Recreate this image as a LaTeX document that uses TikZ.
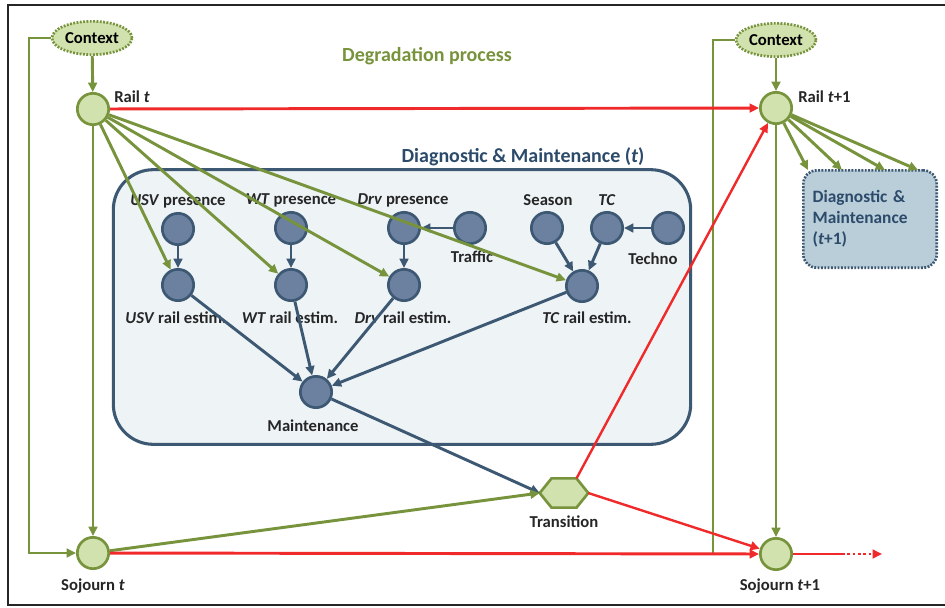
\documentclass[tikz,border=0pt]{standalone}
\usepackage{fontspec}
\setmainfont{Carlito}
\usetikzlibrary{arrows.meta,calc,shapes.geometric}
\definecolor{ol}{HTML}{77933C}
\definecolor{lg}{HTML}{D2E2AE}
\definecolor{rd}{HTML}{F02A2A}
\definecolor{dk}{HTML}{3D5872}
\definecolor{dkfill}{HTML}{6B819F}
\definecolor{boxfill}{HTML}{EEF3F6}
\definecolor{box2fill}{HTML}{BACEDA}
\definecolor{ttl}{HTML}{2C4A6A}
\begin{document}
\begin{tikzpicture}[x=0.75pt,y=-0.75pt,
  lbl/.style={font=\fontsize{12.5}{14}\selectfont\bfseries, text=black!85, inner sep=0pt},
  gnode/.style={circle, draw=ol, fill=lg, line width=2pt, minimum size=23.5pt, inner sep=0pt},
  dnode/.style={circle, draw=dk, fill=dkfill, line width=2pt, minimum size=23.5pt, inner sep=0pt},
  ctxnode/.style={ellipse, draw=ol, fill=lg, line width=2pt, dash pattern=on 1.4pt off 1.1pt, minimum width=60pt, minimum height=25pt, inner sep=0pt, font=\fontsize{12.5}{14}\selectfont\bfseries},
  oarr/.style={draw=ol, line width=2.2pt, -{Triangle[length=7pt,width=6.5pt]}},
  darr/.style={draw=dk, line width=2.2pt, -{Triangle[length=7pt,width=6.5pt]}},
  rarr/.style={draw=rd, line width=1.9pt, -{Triangle[length=7pt,width=6.5pt]}},
]
\useasboundingbox (0,0) rectangle (945,607);
\fill[white] (0,0) rectangle (945,607);
% frame
\draw[line width=1.6pt, black!85] (946,5) -- (8,5) -- (8,605) -- (946,605);

% big box
\node[draw=dk, fill=boxfill, line width=2.3pt, rounded corners=30pt, minimum width=433pt, minimum height=206pt, inner sep=0pt] (dm) at (402,307) {};
\node[font=\fontsize{15}{17}\selectfont\bfseries, text=ttl, inner sep=0pt] (dmtitle) at (523,157) {Diagnostic \& Maintenance (\textit{t})};
\node[font=\fontsize{15}{17}\selectfont\bfseries, text=ol, inner sep=0pt] (degr) at (427,56) {Degradation process};

% D&M t+1 box
\node[draw=dk, fill=box2fill, line width=2pt, dash pattern=on 1.4pt off 1.1pt, rounded corners=10pt, minimum width=100pt, minimum height=73pt, inner sep=0pt, text width=86pt, align=left, text=ttl, font=\fontsize{13}{15.6}\selectfont\bfseries] (dm2) at (870,219) {Diagnostic \&\\Maintenance\\(\textit{t}+1)};

% context nodes
\node[ctxnode] (ctx1) at (92,38) {Context};
\node[ctxnode] (ctx2) at (776,40) {Context};

% green nodes
\node[gnode] (rt) at (93,109) {};
\node[gnode] (st) at (93,553) {};
\node[gnode] (rt2) at (776,108) {};
\node[gnode] (st2) at (776,554) {};
\node[lbl, anchor=west] (rtl) at (114,97) {Rail \textit{t}};
\node[lbl, anchor=west] (rt2l) at (798,97) {Rail \textit{t}+1};
\node[lbl] (stl) at (93,586) {Sojourn \textit{t}};
\node[lbl] (st2l) at (780,586) {Sojourn \textit{t}+1};

% transition hexagon
\node[minimum width=36pt, minimum height=21.5pt, inner sep=0pt] (tr) at (564,493) {};
\draw[draw=ol, fill=lg, line width=2pt, line join=miter]
  (tr.west) -- ($(tr.north)+(-12.5,0)$) -- ($(tr.north)+(12.5,0)$) -- (tr.east)
  -- ($(tr.south)+(12.5,0)$) -- ($(tr.south)+(-12.5,0)$) -- cycle;
\coordinate (trne) at ($(tr.north)+(12.5,0)$);
\node[lbl] (trl) at (564,522) {Transition};

% inner nodes
\node[dnode] (usvp) at (178,229) {};
\node[dnode] (usvr) at (178,285) {};
\node[dnode] (wtp) at (291,228) {};
\node[dnode] (wtr) at (291,285) {};
\node[dnode] (drvp) at (404,228) {};
\node[dnode] (drvr) at (404,285) {};
\node[dnode] (traf) at (470,228) {};
\node[dnode] (seas) at (547,228) {};
\node[dnode] (tc) at (607,228) {};
\node[dnode] (tech) at (668,228) {};
\node[dnode] (tcr) at (582,286) {};
\node[dnode] (mnt) at (316,392) {};

\node[lbl] (usvpl) at (178,201) {\textit{USV} presence};
\node[lbl] (wtpl) at (291,200) {\textit{WT} presence};
\node[lbl] (drvpl) at (403,200) {\textit{Drv} presence};
\node[lbl] (trafl) at (472,257) {Traffic};
\node[lbl] (seasl) at (548,200) {Season};
\node[lbl] (tcl) at (607,200) {\textit{TC}};
\node[lbl] (techl) at (653,259) {Techno};
\node[lbl] (usvrl) at (176,318) {\textit{USV} rail estim.};
\node[lbl] (wtrl) at (290,318) {\textit{WT} rail estim.};
\node[lbl] (drvrl) at (403,318) {\textit{Drv} rail estim.};
\node[lbl] (tcrl) at (587,318) {\textit{TC} rail estim.};
\node[lbl] (mntl) at (313,426) {Maintenance};

% inner edges
\draw[darr] (usvp) -- (usvr);
\draw[darr] (wtp) -- (wtr);
\draw[darr] (drvp) -- (drvr);
\draw[darr] (traf) -- (drvp);
\draw[darr] (tech) -- (tc);
\draw[darr] (seas) -- (tcr);
\draw[darr] (tc) -- (tcr);
\draw[darr] (usvr) -- (mnt);
\draw[darr] (wtr) -- (mnt);
\draw[darr] (drvr) -- (mnt);
\draw[darr] (tcr) -- (mnt);
\draw[darr] (mnt) -- (tr.west);

% olive edges
\draw[oarr] (ctx1) -- (rt);
\draw[oarr] (ctx2) -- (rt2);
\draw[oarr] (rt) -- (st);
\draw[oarr] (rt2) -- (st2);
\coordinate (lx) at (29,300);
\coordinate (rx) at (713,553);
\draw[oarr] (ctx1.west) -| (lx) |- (st.west);
\draw[draw=ol, line width=2.2pt] (ctx2.west) -| (rx);
\draw[oarr] (rt) -- (usvr);
\draw[oarr] (rt) -- (wtr);
\draw[oarr] (rt) -- (drvr);
\draw[oarr] (rt) -- (tcr);
\draw[oarr] (st) -- (tr.west);
\coordinate (d1) at (808,170);
\coordinate (d2) at (842,170);
\coordinate (d3) at (885,170);
\coordinate (d4) at (918,170);
\draw[oarr] (rt2) -- (d1);
\draw[oarr] (rt2) -- (d2);
\draw[oarr] (rt2) -- (d3);
\draw[oarr] (rt2) -- (d4);

% red edges
\draw[rarr, line width=2.2pt] (rt) -- (rt2);
\draw[rarr, line width=2.2pt] (st) -- (st2);
\draw[rarr, line width=1.8pt] (trne) -- (rt2);
\draw[rarr, line width=1.8pt] (tr.east) -- (st2);
\coordinate (tail) at (842,554);
\coordinate (tailend) at (882,554);
\draw[draw=rd, line width=2.2pt] (st2) -- (tail);
\draw[rarr, line width=2.2pt, dash pattern=on 2pt off 2pt] (tail) -- (tailend);
\end{tikzpicture}
\end{document}
